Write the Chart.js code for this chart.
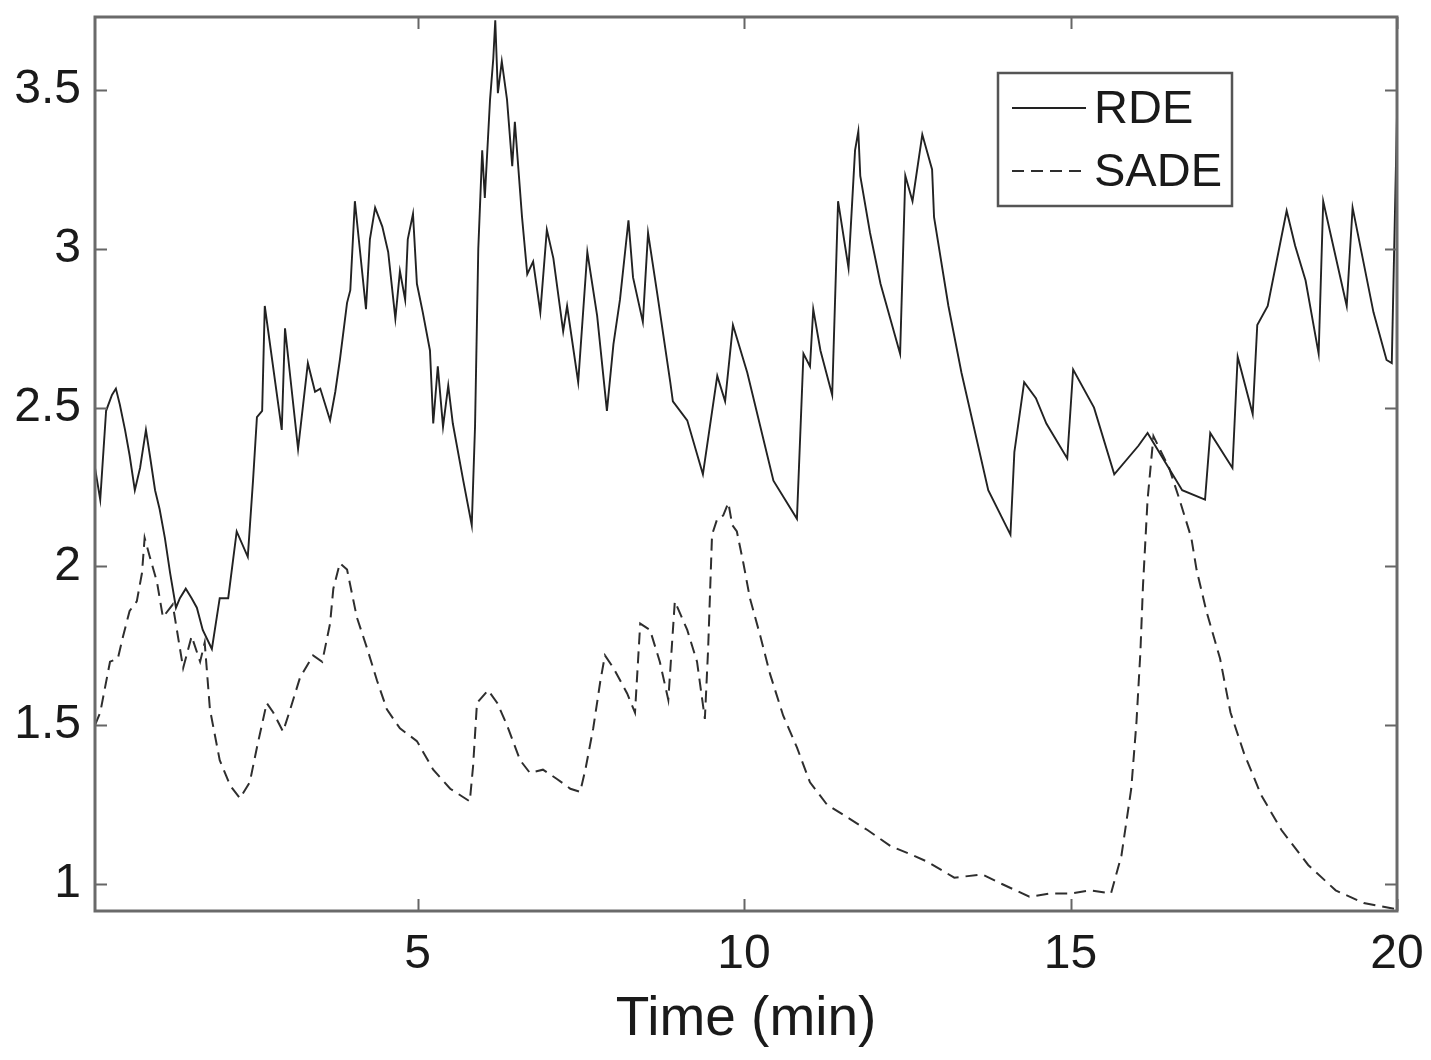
<!DOCTYPE html>
<html>
<head>
<meta charset="utf-8">
<title>RDE x SADE</title>
<script src="https://cdn.jsdelivr.net/npm/chart.js@4.4.1/dist/chart.umd.min.js"></script>
<style>
    html, body { margin: 0; padding: 0; background: #fff; }
    #chart { display: block; }
</style>
</head>
<body>
<canvas id="chart" width="1431" height="1060"></canvas>
<script>
// Valores (tempo em minutos)
const rdeTime = [
    0.06, 0.14, 0.23, 0.32, 0.38, 0.44, 0.52, 0.59, 0.67, 0.75,
    0.84, 0.90, 0.98, 1.05, 1.13, 1.21, 1.30, 1.36, 1.45, 1.54,
    1.62, 1.71, 1.85, 1.97, 2.10, 2.23, 2.40, 2.48, 2.54, 2.62,
    2.66, 2.92, 2.97, 3.17, 3.32, 3.43, 3.51, 3.66, 3.74, 3.81,
    3.92, 3.97, 4.04, 4.12, 4.21, 4.27, 4.35, 4.46, 4.55, 4.66,
    4.73, 4.81, 4.85, 4.93, 4.99, 5.08, 5.19, 5.24, 5.31, 5.39,
    5.47, 5.54, 5.70, 5.83, 5.88, 5.93, 5.99, 6.03, 6.11, 6.16,
    6.19, 6.23, 6.29, 6.37, 6.45, 6.49, 6.60, 6.68, 6.77, 6.88,
    6.98, 7.08, 7.23, 7.29, 7.46, 7.60, 7.75, 7.90, 8.00, 8.10,
    8.23, 8.30, 8.45, 8.53, 8.67, 8.87, 8.91, 9.13, 9.37, 9.59,
    9.71, 9.79, 9.83, 10.05, 10.45, 10.81, 10.91, 11.01, 11.06, 11.17,
    11.35, 11.44, 11.60, 11.70, 11.75, 11.78, 11.93, 12.09, 12.39, 12.47,
    12.58, 12.73, 12.88, 12.91, 13.13, 13.33, 13.74, 14.08, 14.14, 14.29,
    14.47, 14.63, 14.95, 15.04, 15.36, 15.67, 16.04, 16.18, 16.71, 17.06,
    17.14, 17.48, 17.56, 17.79, 17.86, 18.02, 18.31, 18.44, 18.60, 18.80,
    18.87, 19.23, 19.32, 19.64, 19.84, 19.92, 20.0
];
const rdeValue = [
    2.31, 2.21, 2.49, 2.54, 2.56, 2.51, 2.43, 2.35, 2.24, 2.31,
    2.43, 2.35, 2.24, 2.18, 2.09, 1.98, 1.87, 1.90, 1.93, 1.90,
    1.87, 1.80, 1.74, 1.90, 1.90, 2.11, 2.03, 2.27, 2.47, 2.49,
    2.82, 2.43, 2.75, 2.37, 2.64, 2.55, 2.56, 2.46, 2.55, 2.65,
    2.83, 2.87, 3.15, 2.99, 2.81, 3.03, 3.13, 3.07, 2.99, 2.78,
    2.93, 2.84, 3.03, 3.11, 2.89, 2.80, 2.68, 2.45, 2.63, 2.44,
    2.57, 2.45, 2.27, 2.13, 2.44, 3.00, 3.31, 3.16, 3.47, 3.60,
    3.72, 3.49, 3.59, 3.47, 3.26, 3.40, 3.10, 2.92, 2.96, 2.80,
    3.06, 2.97, 2.74, 2.82, 2.58, 2.99, 2.79, 2.49, 2.70, 2.84,
    3.09, 2.91, 2.77, 3.05, 2.86, 2.58, 2.52, 2.46, 2.29, 2.60,
    2.52, 2.68, 2.76, 2.61, 2.27, 2.15, 2.67, 2.63, 2.81, 2.68,
    2.54, 3.15, 2.94, 3.31, 3.37, 3.23, 3.05, 2.89, 2.67, 3.23,
    3.15, 3.36, 3.25, 3.10, 2.82, 2.61, 2.24, 2.10, 2.36, 2.58,
    2.53, 2.45, 2.34, 2.62, 2.50, 2.29, 2.38, 2.42, 2.24, 2.21,
    2.42, 2.31, 2.66, 2.48, 2.76, 2.82, 3.12, 3.01, 2.90, 2.67,
    3.15, 2.82, 3.13, 2.80, 2.65, 2.64, 3.42
];

const sadeTime = [
    0.06, 0.14, 0.29, 0.41, 0.49, 0.59, 0.70, 0.78, 0.82, 0.90,
    1.01, 1.10, 1.25, 1.41, 1.54, 1.67, 1.74, 1.82, 1.97, 2.13,
    2.28, 2.43, 2.54, 2.69, 2.79, 2.94, 3.05, 3.20, 3.40, 3.54,
    3.66, 3.71, 3.81, 3.92, 4.07, 4.23, 4.38, 4.53, 4.73, 4.99,
    5.24, 5.50, 5.80, 5.85, 5.91, 6.08, 6.22, 6.37, 6.57, 6.72,
    6.92, 7.14, 7.34, 7.49, 7.57, 7.69, 7.80, 7.87, 8.00, 8.21,
    8.33, 8.41, 8.56, 8.71, 8.84, 8.94, 9.13, 9.28, 9.40, 9.45,
    9.51, 9.59, 9.68, 9.76, 9.82, 9.89, 9.99, 10.09, 10.25, 10.40,
    10.60, 10.81, 11.01, 11.27, 11.58, 11.89, 12.24, 12.59, 12.81, 13.22,
    13.65, 13.95, 14.37, 14.69, 15.00, 15.30, 15.62, 15.78, 15.93, 16.01,
    16.07, 16.11, 16.18, 16.27, 16.51, 16.67, 16.85, 16.93, 17.08, 17.29,
    17.45, 17.66, 17.92, 18.23, 18.64, 19.06, 19.49, 20.0
];
const sadeValue = [
    1.50, 1.54, 1.70, 1.71, 1.78, 1.86, 1.89, 1.98, 2.09, 2.03,
    1.95, 1.84, 1.88, 1.68, 1.78, 1.70, 1.76, 1.55, 1.39, 1.31,
    1.27, 1.32, 1.43, 1.57, 1.54, 1.48, 1.55, 1.65, 1.72, 1.70,
    1.82, 1.93, 2.01, 1.99, 1.84, 1.74, 1.64, 1.55, 1.49, 1.45,
    1.36, 1.30, 1.26, 1.37, 1.57, 1.61, 1.57, 1.50, 1.39, 1.35,
    1.36, 1.33, 1.30, 1.29, 1.36, 1.49, 1.64, 1.72, 1.68, 1.60,
    1.54, 1.82, 1.80, 1.70, 1.58, 1.89, 1.80, 1.70, 1.52, 1.74,
    2.10, 2.15, 2.16, 2.20, 2.13, 2.11, 2.01, 1.90, 1.78, 1.66,
    1.53, 1.43, 1.32, 1.25, 1.21, 1.17, 1.12, 1.09, 1.07, 1.02,
    1.03, 1.00, 0.96, 0.97, 0.97, 0.98, 0.97, 1.09, 1.30, 1.51,
    1.73, 1.94, 2.21, 2.41, 2.31, 2.21, 2.09, 1.99, 1.86, 1.71,
    1.54, 1.41, 1.28, 1.17, 1.06, 0.98, 0.94, 0.92
];

const xTicks = [5, 10, 15, 20];
const yTicks = [1, 1.5, 2, 2.5, 3, 3.5];
const seriesNames = ['RDE', 'SADE'];
const xTitle = 'Time (min)';

const FONT = '"Liberation Sans", Arial, Helvetica, sans-serif';

/**
 * Moldura do eixo com marcas internas (estilo MATLAB)
 */
const framePlugin = {
    id: 'frame',
    afterDatasetsDraw(chart) {
        const { ctx, chartArea: area, scales } = chart;
        const len = 12;
        ctx.save();
        ctx.strokeStyle = '#666';
        ctx.lineWidth = 2;
        ctx.beginPath();
        scales.x.ticks.forEach(tick => {
            const px = Math.round(scales.x.getPixelForValue(tick.value)) + 0.5;
            ctx.moveTo(px, area.bottom);
            ctx.lineTo(px, area.bottom - len);
            ctx.moveTo(px, area.top);
            ctx.lineTo(px, area.top + len);
        });
        scales.y.ticks.forEach(tick => {
            const py = Math.round(scales.y.getPixelForValue(tick.value)) + 0.5;
            ctx.moveTo(area.left, py);
            ctx.lineTo(area.left + len, py);
            ctx.moveTo(area.right, py);
            ctx.lineTo(area.right - len, py);
        });
        ctx.stroke();
        ctx.lineWidth = 3;
        ctx.strokeStyle = '#6a6a6a';
        ctx.strokeRect(area.left, area.top, area.right - area.left, area.bottom - area.top);
        ctx.restore();
    }
};

/**
 * Legenda dentro da área do gráfico
 */
const boxLegendPlugin = {
    id: 'boxLegend',
    afterDraw(chart, args, opts) {
        const { ctx } = chart;
        ctx.save();
        ctx.fillStyle = '#fff';
        ctx.fillRect(opts.left, opts.top, opts.width, opts.height);
        ctx.strokeStyle = '#555';
        ctx.lineWidth = 2.5;
        ctx.strokeRect(opts.left, opts.top, opts.width, opts.height);
        ctx.font = `${opts.fontSize}px ${FONT}`;
        ctx.textBaseline = 'middle';
        ctx.fillStyle = '#1a1a1a';
        chart.data.datasets.forEach((dataset, i) => {
            const y = opts.top + opts.rowStart + i * opts.rowGap;
            ctx.strokeStyle = dataset.borderColor;
            ctx.lineWidth = dataset.borderWidth;
            ctx.setLineDash(dataset.borderDash || []);
            ctx.beginPath();
            ctx.moveTo(opts.left + opts.lineStart, y);
            ctx.lineTo(opts.left + opts.lineEnd, y);
            ctx.stroke();
            ctx.setLineDash([]);
            ctx.fillText(dataset.label, opts.left + opts.textStart, y + 2);
        });
        ctx.restore();
    }
};

const toPoints = (times, values) => times.map((t, i) => ({ x: t, y: values[i] }));

new Chart(document.getElementById('chart'), {
    type: 'line',
    data: {
        datasets: [
            {
                label: seriesNames[0],
                data: toPoints(rdeTime, rdeValue),
                borderColor: '#222',
                borderWidth: 1.9,
                pointRadius: 0,
                tension: 0
            },
            {
                label: seriesNames[1],
                data: toPoints(sadeTime, sadeValue),
                borderColor: '#2e2e2e',
                borderWidth: 2,
                borderDash: [12, 7],
                pointRadius: 0,
                tension: 0
            }
        ]
    },
    options: {
        responsive: false,
        animation: false,
        layout: { padding: { top: 17, right: 34, left: 0, bottom: 0 } },
        plugins: {
            legend: { display: false },
            tooltip: { enabled: false },
            boxLegend: {
                left: 998, top: 73, width: 234, height: 133,
                rowStart: 35, rowGap: 63,
                lineStart: 14, lineEnd: 88, textStart: 96,
                fontSize: 47
            }
        },
        scales: {
            x: {
                type: 'linear',
                min: 0.06,
                max: 20,
                afterBuildTicks: scale => { scale.ticks = xTicks.map(value => ({ value })); },
                afterFit: scale => {
                    scale.height = 149;
                    scale.paddingLeft = 0;
                    scale.paddingRight = 0;
                },
                grid: { display: false, drawTicks: false },
                border: { display: false },
                ticks: {
                    padding: 15,
                    color: '#1a1a1a',
                    font: { family: FONT, size: 48 },
                    maxRotation: 0,
                    callback: value => String(value)
                },
                title: {
                    display: true,
                    text: xTitle,
                    color: '#1a1a1a',
                    font: { family: FONT, size: 55 },
                    padding: { top: 0, bottom: 7 }
                }
            },
            y: {
                type: 'linear',
                min: 0.915,
                max: 3.73,
                afterBuildTicks: scale => { scale.ticks = yTicks.map(value => ({ value })); },
                afterFit: scale => {
                    scale.width = 95;
                    scale.paddingTop = 0;
                    scale.paddingBottom = 0;
                },
                grid: { display: false, drawTicks: false },
                border: { display: false },
                ticks: {
                    padding: 14,
                    color: '#1a1a1a',
                    font: { family: FONT, size: 48 },
                    callback: value => String(value)
                }
            }
        }
    },
    plugins: [framePlugin, boxLegendPlugin]
});
</script>
</body>
</html>
